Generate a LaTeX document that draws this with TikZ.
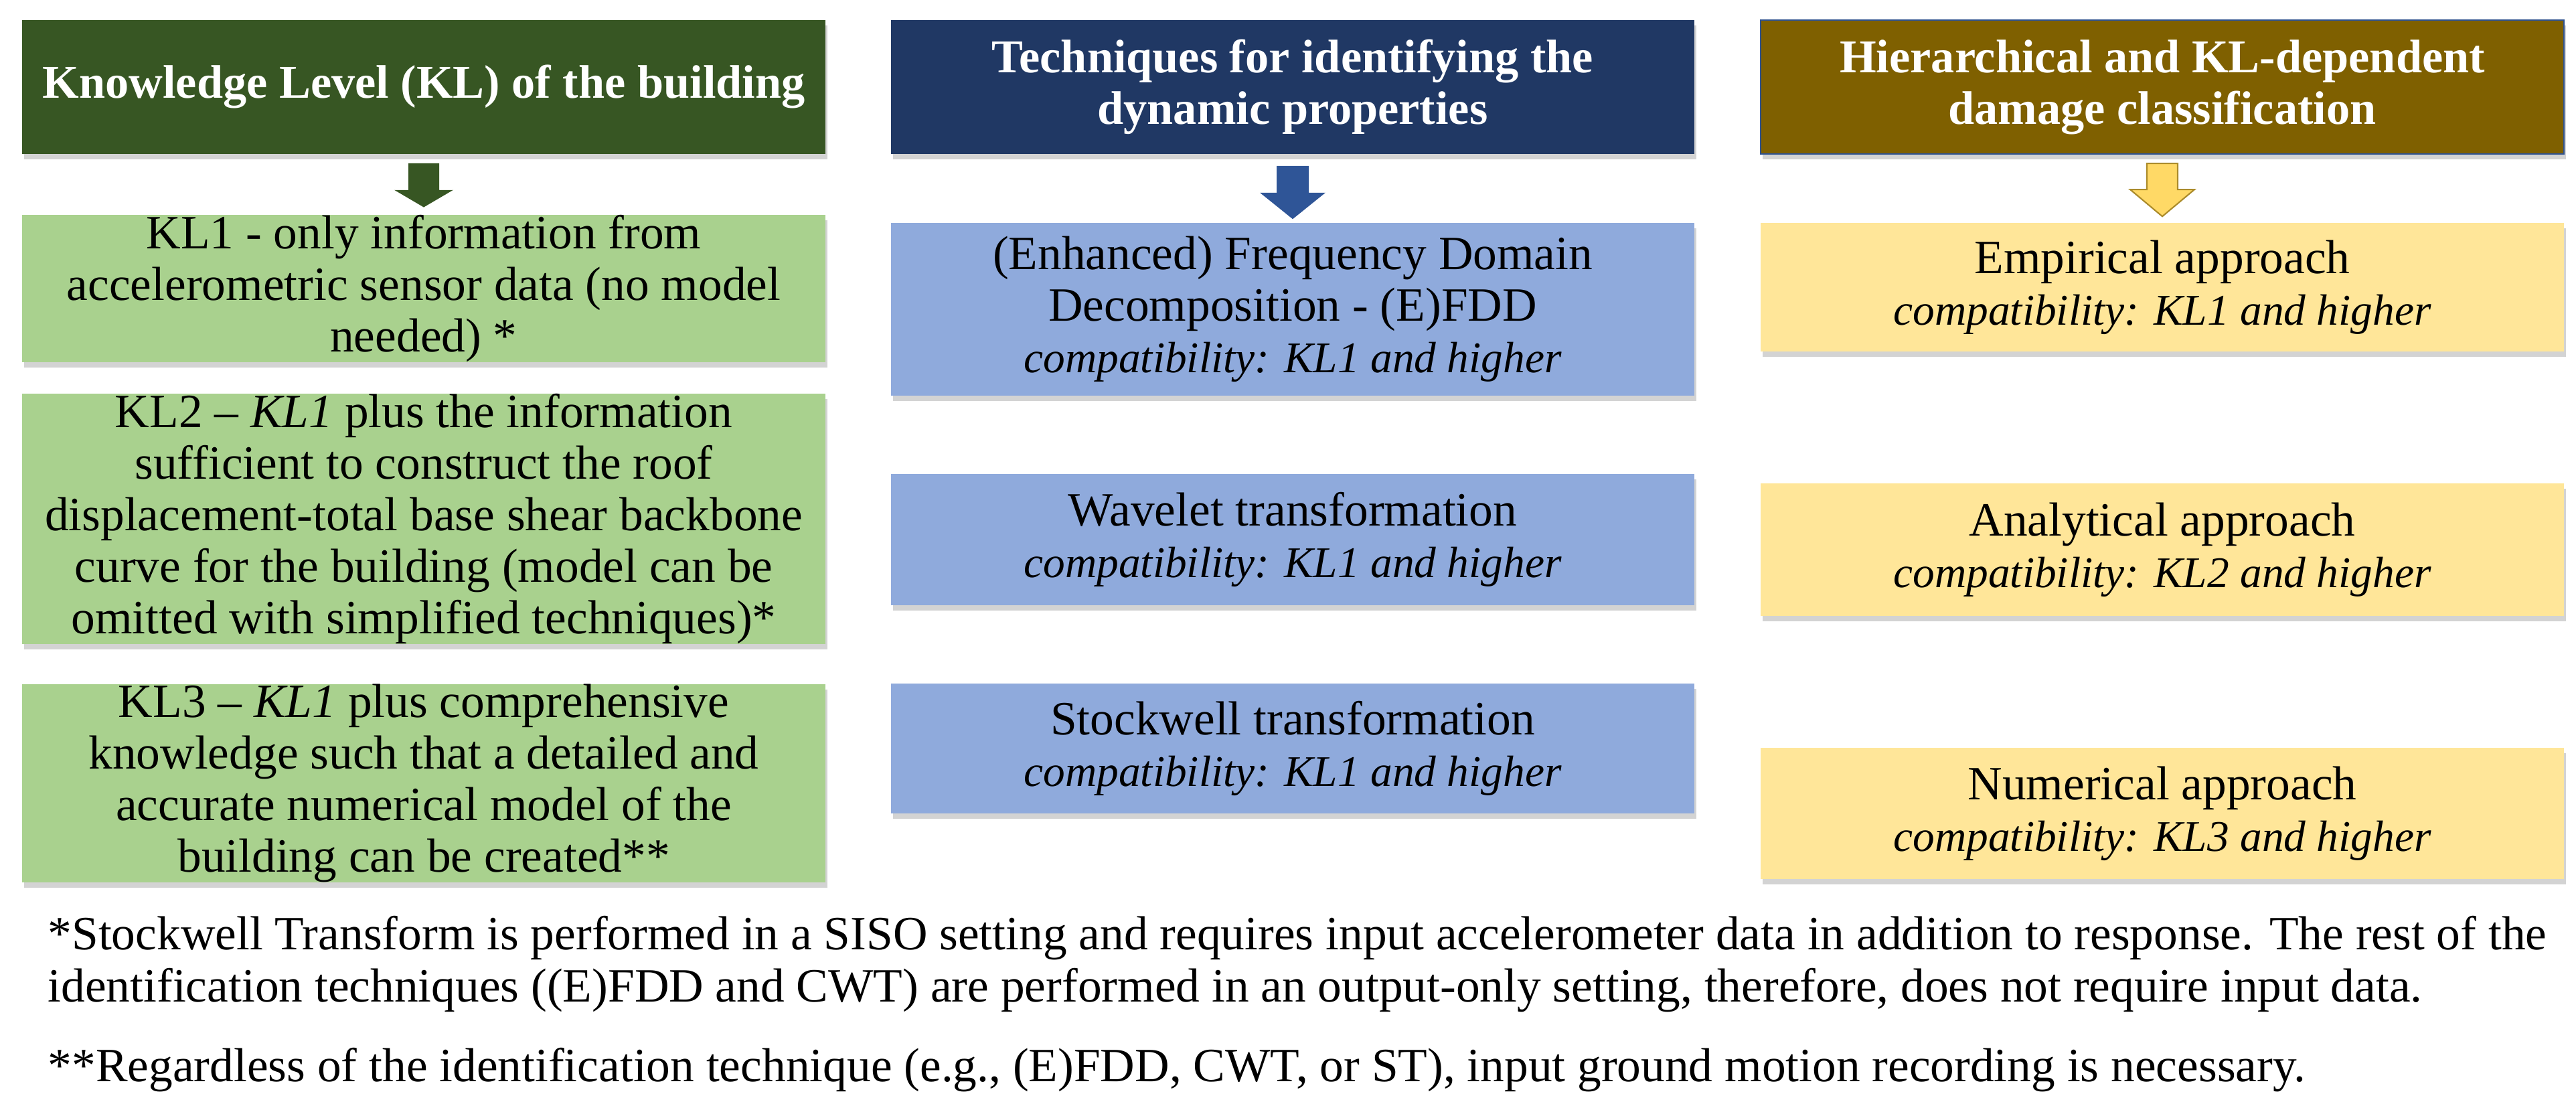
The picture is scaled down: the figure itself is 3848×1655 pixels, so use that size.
\documentclass[tikz,border=0pt]{standalone}
\usepackage{fontspec}
\setmainfont{Liberation Serif}
\usetikzlibrary{calc,shadows}

\definecolor{hdGreen}{HTML}{375623}
\definecolor{hdBlue}{HTML}{203864}
\definecolor{hdBrown}{HTML}{7F6000}
\definecolor{bxGreen}{HTML}{A9D18E}
\definecolor{bxBlue}{HTML}{8FAADC}
\definecolor{bxYellow}{HTML}{FFE699}
\definecolor{arBlue}{HTML}{2F5597}
\definecolor{arYellow}{HTML}{FFD966}
\definecolor{arGold}{HTML}{AB8B2A}
\definecolor{edBlue}{HTML}{2F528F}

\newcommand{\compat}[1]{{\fontsize{18.6}{21.9}\selectfont\itshape compatibility: #1 and higher}}

\begin{document}
\begin{tikzpicture}[x=0.01cm,y=-0.01cm,
    every node/.style={font=\fontsize{20.3}{21.9}\selectfont, align=center, inner sep=0pt},
    shade/.style={drop shadow={shadow xshift=0.03cm, shadow yshift=-0.08cm, opacity=0.35}},
    head/.style={shade, minimum width=12cm, minimum height=2cm, text=white,
        font=\fontsize{20}{21.9}\selectfont\bfseries},
    box/.style={shade, minimum width=12cm},
    note/.style={anchor=base west, align=left}]
    \useasboundingbox (0,0) rectangle (3848,1655);

    \node[head, fill=hdGreen] (hdKL) at (633,130) {Knowledge Level (KL) of the building};
    \node[head, fill=hdBlue] (hdTech) at (1931,130) {Techniques for identifying the\\dynamic properties};
    \node[head, fill=hdBrown, draw=edBlue, line width=0.6pt] (hdDmg) at (3230,130) {Hierarchical and KL-dependent\\damage classification};

    \node[box, fill=bxGreen, minimum height=1.97cm] (klOne) at (633,431) {KL1 - only information from\\accelerometric sensor data (no model\\needed) *};
    \node[box, fill=bxGreen, minimum height=3.66cm] (klTwo) at (633,775) {KL2 -- \textit{KL1} plus the information\\sufficient to construct the roof\\displacement-total base shear backbone\\curve for the building (model can be\\omitted with simplified techniques)*};
    \node[box, fill=bxGreen, minimum height=2.94cm] (klThree) at (633,1170) {KL3 -- \textit{KL1} plus comprehensive\\knowledge such that a detailed and\\accurate numerical model of the\\building can be created**};

    \node[box, fill=bxBlue, minimum height=2.58cm] (fdd) at (1931,462) {(Enhanced) Frequency Domain\\Decomposition - (E)FDD\\\compat{KL1}};
    \node[box, fill=bxBlue, minimum height=1.95cm] (cwt) at (1931,806) {Wavelet transformation\\\compat{KL1}};
    \node[box, fill=bxBlue, minimum height=1.94cm] (st) at (1931,1118) {Stockwell transformation\\\compat{KL1}};

    \node[box, fill=bxYellow, minimum height=1.92cm] (emp) at (3230,429) {Empirical approach\\\compat{KL1}};
    \node[box, fill=bxYellow, minimum height=1.98cm] (ana) at (3230,821) {Analytical approach\\\compat{KL2}};
    \node[box, fill=bxYellow, minimum height=1.96cm] (num) at (3230,1215) {Numerical approach\\\compat{KL3}};

    \fill[hdGreen] ($(hdKL.south)+(-23,13)$) -- ($(hdKL.south)+(23,13)$) -- ($(hdKL.south)+(23,53)$)
        -- ($(hdKL.south)+(44,53)$) -- ($(klOne.north)+(0,-11)$) -- ($(hdKL.south)+(-44,53)$)
        -- ($(hdKL.south)+(-23,53)$) -- cycle;
    \fill[arBlue] ($(hdTech.south)+(-24,17)$) -- ($(hdTech.south)+(24,17)$) -- ($(hdTech.south)+(24,57)$)
        -- ($(hdTech.south)+(49,57)$) -- ($(fdd.north)+(0,-5)$) -- ($(hdTech.south)+(-49,57)$)
        -- ($(hdTech.south)+(-24,57)$) -- cycle;
    \filldraw[fill=arYellow, draw=arGold, line width=0.6pt] ($(hdDmg.south)+(-23,13)$) -- ($(hdDmg.south)+(23,13)$)
        -- ($(hdDmg.south)+(23,52)$) -- ($(hdDmg.south)+(48,52)$) -- ($(emp.north)+(0,-9)$)
        -- ($(hdDmg.south)+(-48,52)$) -- ($(hdDmg.south)+(-23,52)$) -- cycle;

    \node[note] (noteA) at (71,1418) {*Stockwell Transform is performed in a SISO setting and requires input accelerometer data in addition to response. The rest of the};
    \node[note] (noteB) at (71,1496) {identification techniques ((E)FDD and CWT) are performed in an output-only setting, therefore, does not require input data.};
    \node[note] (noteC) at (71,1615) {**Regardless of the identification technique (e.g., (E)FDD, CWT, or ST), input ground motion recording is necessary.};
\end{tikzpicture}
\end{document}
